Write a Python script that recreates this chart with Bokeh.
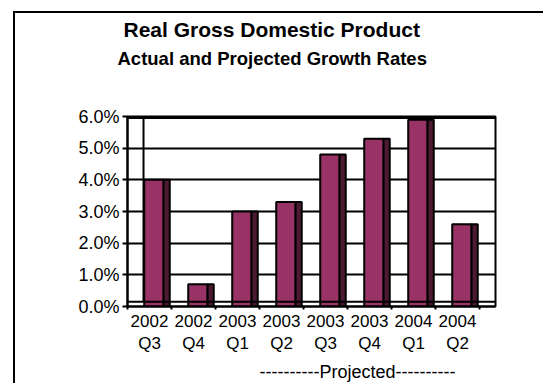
import numpy as np
from bokeh.plotting import figure
from bokeh.models import Range1d, FixedTicker, Span, Title
from bokeh.embed import file_html
from bokeh.resources import INLINE

# ---- data ----
years = ["2002", "2002", "2003", "2003", "2003", "2003", "2004", "2004"]
quarters = ["Q3", "Q4", "Q1", "Q2", "Q3", "Q4", "Q1", "Q2"]
growth = [4.0, 0.7, 3.0, 3.3, 4.8, 5.3, 5.9, 2.6]
y_ticks = [0, 1, 2, 3, 4, 5, 6]
y_tick_labels = ["0.0%", "1.0%", "2.0%", "3.0%", "4.0%", "5.0%", "6.0%"]
title_text = "Real Gross Domestic Product"
subtitle_text = "Actual and Projected Growth Rates"
note_text = "----------Projected----------"

FONT = "Liberation Sans"
FRONT = "#993366"
SIDE = "#4D1A33"

n = len(growth)
xs = np.arange(n)

p = figure(width=530, height=372, output_backend="svg", toolbar_location=None,
           title=None,
           x_range=Range1d(-0.5, -0.5 + 368 / 44), y_range=Range1d(0, 6),
           min_border_left=112, min_border_right=50,
           min_border_top=103, min_border_bottom=79)
# outer chart border (left and top edges) drawn as a shadow of the figure box
p.margin = (13, 0, 0, 15)
p.styles = {"box-shadow": "-2px -2px 0px 0px black"}

p.background_fill_color = "white"
p.border_fill_color = "white"
p.outline_line_color = "black"
p.outline_line_width = 2
p.outline_line_alpha = 1

# grid
p.xgrid.visible = False
p.ygrid.ticker = FixedTicker(ticks=y_ticks[1:])
p.ygrid.grid_line_color = "black"
p.ygrid.grid_line_width = 2
p.ygrid.grid_line_alpha = 1

# y axis
ya = p.yaxis[0]
ya.ticker = FixedTicker(ticks=y_ticks)
ya.major_label_overrides = {t: l for t, l in zip(y_ticks, y_tick_labels)}
ya.axis_line_width = 2
ya.axis_line_color = "black"
ya.major_tick_line_width = 2
ya.major_tick_line_color = "black"
ya.major_tick_out = 5
ya.major_tick_in = 0
ya.minor_tick_line_color = None
ya.major_label_standoff = 3
ya.major_label_text_font = FONT
ya.major_label_text_font_size = "18px"
ya.major_label_text_color = "black"

# x axis
xa = p.xaxis[0]
xa.ticker = FixedTicker(ticks=list(range(n)), minor_ticks=[k - 0.5 for k in range(n + 1)])
xa.major_label_overrides = {i: f"{y}\n{q}" for i, (y, q) in enumerate(zip(years, quarters))}
xa.axis_line_width = 2
xa.axis_line_color = "black"
xa.major_tick_out = 0
xa.major_tick_in = 0
xa.minor_tick_out = 3
xa.minor_tick_in = 0
xa.minor_tick_line_width = 2
xa.minor_tick_line_color = "black"
xa.major_label_standoff = 2
xa.major_label_text_font = FONT
xa.major_label_text_font_size = "17px"
xa.major_label_text_color = "black"

# back wall edge
p.segment(x0=[-0.136], y0=[0.15], x1=[-0.136], y1=[6], line_color="black", line_width=2)

# bars: front face and shaded side
p.quad(left=xs - 0.12, right=xs + 0.32, bottom=0, top=growth,
       fill_color=FRONT, line_color="black", line_width=2)
p.quad(left=xs + 0.32, right=xs + 0.46, bottom=0, top=growth,
       fill_color=SIDE, line_color="black", line_width=2)

# floor edge and thick top
p.add_layout(Span(location=0.15, dimension="width", line_color="black", line_width=2))
p.add_layout(Span(location=5.97, dimension="width", line_color="black", line_width=3))

# titles (first added sits closest to the frame); a blank spacer keeps them high
p.add_layout(Title(text=" ", align="left", standoff=41,
                   text_font=FONT, text_font_size="2px"), "above")
p.add_layout(Title(text=subtitle_text, align="left", offset=-10, standoff=6,
                   text_font=FONT, text_font_size="18.5px", text_font_style="bold",
                   text_color="black"), "above")
p.add_layout(Title(text=title_text, align="left", offset=-4, standoff=3,
                   text_font=FONT, text_font_size="21px", text_font_style="bold",
                   text_color="black"), "above")
p.add_layout(Title(text=note_text, align="left", offset=132, standoff=7,
                   text_font=FONT, text_font_size="18px", text_font_style="normal",
                   text_color="black"), "below")

open("out.html", "w").write(file_html(p, INLINE))
